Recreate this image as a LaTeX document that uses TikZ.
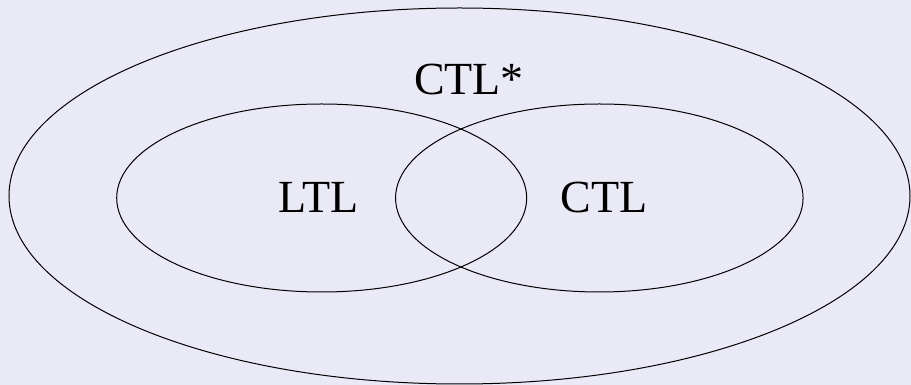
\documentclass[tikz,border=0pt]{standalone}
\usepackage{fontspec}
\setmainfont{Liberation Serif}
\usetikzlibrary{shapes.geometric}
\definecolor{bgcol}{RGB}{234,234,246}
\begin{document}
\begin{tikzpicture}[x=1pt,y=1pt,
  set/.style={draw=black, line width=1pt, ellipse, inner sep=0pt},
  lbl/.style={anchor=base, inner sep=0pt, font=\fontsize{46}{46}\selectfont}]
\fill[bgcol] (0,0) rectangle (911,385);
\useasboundingbox (0,0) rectangle (911,385);
\node[set, minimum width=901pt, minimum height=376pt] (ctlstar) at (459.5,189) {};
\node[set, minimum width=410pt, minimum height=188pt] (ltl) at (321.7,187) {};
\node[set, minimum width=407.5pt, minimum height=188pt] (ctl) at (599.3,187) {};
\node[lbl] (tctlstar) at (469,290) {CTL*};
\node[lbl] (tltl) at (318.5,172.3) {LTL};
\node[lbl] (tctl) at (604,172.3) {CTL};
\end{tikzpicture}
\end{document}
